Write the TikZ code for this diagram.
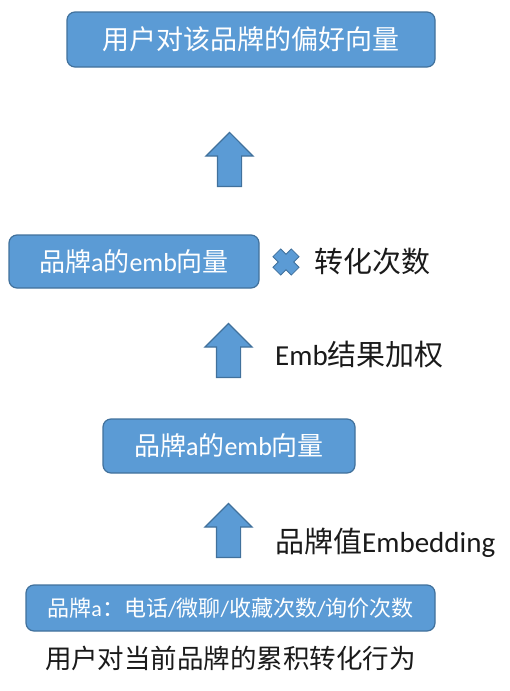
\documentclass[tikz,border=0pt]{standalone}
\usepackage{fontspec}
\setmainfont{Carlito}
\newfontfamily\cjk{Noto Sans CJK SC}
\usetikzlibrary{shapes.arrows, positioning}
\definecolor{boxblue}{HTML}{5B9BD5}
\definecolor{boxline}{HTML}{41719C}
\definecolor{labeltext}{HTML}{1A1A1A}

\begin{document}
\begin{tikzpicture}[x=1pt, y=-1pt,
  bluebox/.style={draw=boxline, fill=boxblue, line width=1.2pt, rounded corners=8pt, text=white, inner sep=0pt},
  uparrow/.style={single arrow, draw=boxline, fill=boxblue, line width=1.2pt, shape border rotate=90, inner sep=11.5pt, minimum height=54pt, single arrow head extend=11.5pt, anchor=tail},
  sidelabel/.style={anchor=west, inner sep=0pt, text=labeltext, font=\fontsize{29}{33}\selectfont}]
\useasboundingbox (0,0) rectangle (509,691);
% top: preference vector
\node[bluebox, minimum width=368pt, minimum height=55pt, font=\fontsize{27}{31}\selectfont\cjk] (pref) at (251,39.5) {用户对该品牌的偏好向量};
\node[uparrow] (up3) at (229.5,187) {};
% weighted emb vector
\node[bluebox, minimum width=250pt, minimum height=53pt, font=\fontsize{26}{30}\selectfont] (embw) at (134,261.5) {{\cjk 品牌}a{\cjk 的}emb{\cjk 向量}};
\fill[boxblue, draw=boxline, line width=0.8pt, rotate around={45:(286,262)}]
  (291.5,267.5) -- (299,267.5) -- (299,256.5) -- (291.5,256.5) -- (291.5,249) -- (280.5,249) -- (280.5,256.5)
  -- (273,256.5) -- (273,267.5) -- (280.5,267.5) -- (280.5,275) -- (291.5,275) -- cycle;
\node[sidelabel, font=\fontsize{29}{33}\selectfont\cjk] (times) at (314,262) {转化次数};
\node[uparrow] (up2) at (228.5,378) {};
\node[sidelabel] (weight) at (275,355) {Emb{\cjk 结果加权}};
% emb vector
\node[bluebox, minimum width=252pt, minimum height=54pt, font=\fontsize{26}{30}\selectfont] (emb) at (229,446) {{\cjk 品牌}a{\cjk 的}emb{\cjk 向量}};
\node[uparrow] (up1) at (228.5,558) {};
\node[sidelabel] (embed) at (275,543) {{\cjk 品牌值}Embedding};
% behaviour counts
\node[bluebox, minimum width=409pt, minimum height=46pt, font=\fontsize{22}{26}\selectfont] (behav) at (230.5,608) {{\cjk 品牌}a{\cjk ：电话}/{\cjk 微聊}/{\cjk 收藏次数}/{\cjk 询价次数}};
\node[inner sep=0pt, text=labeltext, font=\fontsize{26.5}{30}\selectfont\cjk] (caption) at (230.5,658) {用户对当前品牌的累积转化行为};
\end{tikzpicture}
\end{document}
